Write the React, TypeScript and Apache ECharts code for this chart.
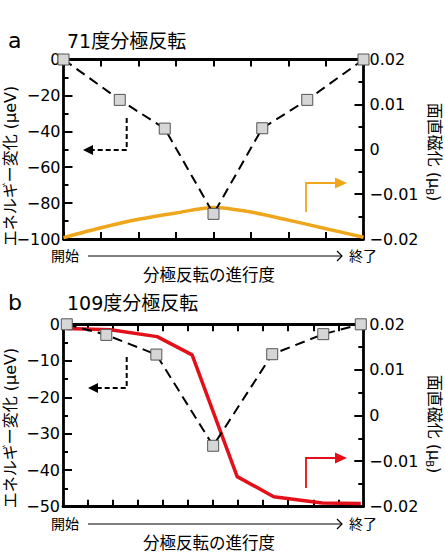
import React, { useEffect, useRef } from "react";
import * as echarts from "echarts";

// ---- data ----
const xA = [0, 1.5, 2.7, 4, 5.3, 6.5, 8];
const energyA = [0, -22.5, -38.5, -86, -38.3, -22.5, 0];
const magXA = [0, 1, 2, 3, 4, 5, 6, 7, 8];
const magA = [-0.0197, -0.0175, -0.0156, -0.0142, -0.013, -0.014, -0.0158, -0.0177, -0.0196];

const xB = [0.15, 1.73, 3.73, 6, 8.36, 10.4, 11.9];
const energyB = [0, -2.9, -8.3, -33.3, -8.2, -2.7, 0];
const magXB = [0.15, 1.9, 3.76, 5.16, 6.96, 8.42, 10.36, 11.9];
const magB = [0.0191, 0.0188, 0.0173, 0.0133, -0.0134, -0.0178, -0.0192, -0.0193];

const titles = ["71度分極反転", "109度分極反転"];
const panelLabels = ["a", "b"];
const leftName = "エネルギー変化 (μeV)";
const rightName = "面直磁化 (μ{sub|B})";
const startLabel = "開始";
const endLabel = "終了";
const xName = "分極反転の進行度";

const ORANGE = "#f0a61c";
const RED = "#e3101a";
const NUM_FONT = "'DejaVu Sans', 'Noto Sans CJK JP', sans-serif";
const JP_FONT = "'DejaVu Sans', 'Noto Sans CJK JP', sans-serif";

const minus = (s: string) => s.replace("-", "\u2212");

export default function App() {
  const ref = useRef<HTMLDivElement>(null);
  useEffect(() => {
    if (!ref.current) return;
    const chart = echarts.init(ref.current, undefined, { renderer: "svg" });

    const axLine = { show: true, onZero: false, lineStyle: { color: "#000", width: 2.8 } };
    const xAx = (grid: number, pos: string, max: number) => ({
      type: "value",
      gridIndex: grid,
      position: pos,
      min: 0,
      max,
      interval: 1,
      axisLine: axLine,
      axisTick: { show: true, inside: true, length: 7, lineStyle: { color: "#000", width: 2 } },
      axisLabel: { show: false },
      splitLine: { show: false },
    });
    const yAx = (grid: number, pos: string, min: number, max: number, interval: number, right: boolean) => ({
      type: "value",
      gridIndex: grid,
      position: pos,
      min,
      max,
      interval,
      axisLine: axLine,
      axisTick: { show: true, inside: true, length: 9, lineStyle: { color: "#000", width: 2 } },
      minorTick: { show: true, splitNumber: 2, length: 5, lineStyle: { color: "#000", width: 2 } },
      splitLine: { show: false },
      axisLabel: {
        show: true,
        margin: right ? 6 : 3,
        fontSize: 16,
        color: "#000",
        fontFamily: NUM_FONT,
        formatter: (v: number) =>
          Math.abs(v) < 1e-9 ? "0" : minus(right ? v.toFixed(2) : String(Math.round(v))),
      },
    });

    const energyStyle = (xi: number, yi: number, xs: number[], ys: number[]) => ({
      type: "line",
      xAxisIndex: xi,
      yAxisIndex: yi,
      data: xs.map((x, i) => [x, ys[i]]),
      lineStyle: { color: "#000", width: 2, type: [10, 6] },
      symbol: "rect",
      symbolSize: 11,
      showSymbol: true,
      itemStyle: { color: "#d6d6d6", borderColor: "#555", borderWidth: 1 },
      clip: false,
      z: 4,
    });
    const magStyle = (xi: number, yi: number, xs: number[], ys: number[], color: string, smooth: number) => ({
      type: "line",
      xAxisIndex: xi,
      yAxisIndex: yi,
      data: xs.map((x, i) => [x, ys[i]]),
      lineStyle: { color, width: 3.5 },
      itemStyle: { color },
      showSymbol: false,
      symbol: "none",
      smooth,
      clip: false,
      z: 3,
    });

    const text = (x: number, y: number, t: string, size: number, extra: any = {}) => ({
      type: "text",
      x,
      y,
      z: 10,
      style: {
        text: t,
        fontSize: size,
        fontFamily: JP_FONT,
        fill: "#000",
        align: "left",
        verticalAlign: "middle",
        ...extra,
      },
    });

    const panelGraphics = (dy: number, idx: number, axisMid: number, rightMid: number) => [
      text(8, dy + 40, panelLabels[idx], 22),
      text(67, dy + 41, titles[idx], 19),
      {
        type: "text",
        x: 10,
        y: axisMid,
        rotation: Math.PI / 2,
        z: 10,
        style: { text: leftName, fontSize: 16, fontFamily: JP_FONT, fill: "#000", align: "center", verticalAlign: "middle" },
      },
      {
        type: "text",
        x: 434,
        y: rightMid,
        rotation: -Math.PI / 2,
        z: 10,
        style: {
          text: rightName,
          fontSize: 16,
          fontFamily: JP_FONT,
          fill: "#000",
          align: "center",
          verticalAlign: "middle",
          rich: {
            sub: { fontSize: 10, fontFamily: NUM_FONT, fill: "#000", verticalAlign: "bottom", padding: [10, 0, 0, 0] },
          },
        },
      },
    ];

    const arrowSet = (blackTop: number, blackCorner: number, blackTip: number, color: string, colBottom: number, colCorner: number) => [
      {
        type: "polyline",
        z: 10,
        shape: { points: [[126.7, blackTop], [126.7, blackCorner], [blackTip + 9, blackCorner]] },
        style: { stroke: "#000", lineWidth: 2, lineDash: [5, 3], fill: null },
      },
      {
        type: "polygon",
        z: 10,
        shape: { points: [[blackTip, blackCorner], [blackTip + 10, blackCorner - 5], [blackTip + 10, blackCorner + 5]] },
        style: { fill: "#000" },
      },
      {
        type: "polyline",
        z: 10,
        shape: { points: [[306, colBottom], [306, colCorner], [336, colCorner]] },
        style: { stroke: color, lineWidth: 1.8, fill: null },
      },
      {
        type: "polygon",
        z: 10,
        shape: { points: [[347, colCorner], [335, colCorner - 5.5], [335, colCorner + 5.5]] },
        style: { fill: color },
      },
    ];

    const progress = (yArrow: number, yName: number) => [
      text(51, yArrow, startLabel, 14),
      text(349, yArrow, endLabel, 14),
      text(209, yName, xName, 16.5, { align: "center" }),
      {
        type: "line",
        z: 10,
        shape: { x1: 88, y1: yArrow, x2: 342, y2: yArrow },
        style: { stroke: "#000", lineWidth: 1 },
      },
      {
        type: "polyline",
        z: 10,
        shape: { points: [[337, yArrow - 5], [342, yArrow], [337, yArrow + 5]] },
        style: { stroke: "#000", lineWidth: 1.2, fill: null },
      },
    ];

    const graphic = [
      ...panelGraphics(0, 0, 166, 152),
      ...panelGraphics(262, 1, 428, 424),
      ...arrowSet(118, 150, 83, ORANGE, 212, 183),
      ...arrowSet(357, 388, 88, RED, 488, 458),
      ...progress(256, 275),
      ...progress(524, 543),
    ];

    chart.setOption({
      animation: false,
      backgroundColor: "#fff",
      grid: [
        { left: 63.5, top: 59.5, width: 300, height: 179.5 },
        { left: 63, top: 324.3, width: 300.3, height: 182.4 },
      ],
      xAxis: [xAx(0, "bottom", 8), xAx(0, "top", 8), xAx(1, "bottom", 12), xAx(1, "top", 12)],
      yAxis: [
        yAx(0, "left", -100, 0, 20, false),
        yAx(0, "right", -0.02, 0.02, 0.01, true),
        yAx(1, "left", -50, 0, 10, false),
        yAx(1, "right", -0.02, 0.02, 0.01, true),
      ],
      series: [
        magStyle(0, 1, magXA, magA, ORANGE, 0.3),
        energyStyle(0, 0, xA, energyA),
        magStyle(2, 3, magXB, magB, RED, 0),
        energyStyle(2, 2, xB, energyB),
      ],
      graphic,
    });
    return () => chart.dispose();
  }, []);
  return (
    <div
      ref={ref}
      style={{ position: "fixed", left: 0, top: 0, width: 445, height: 558, background: "#fff" }}
    />
  );
}
